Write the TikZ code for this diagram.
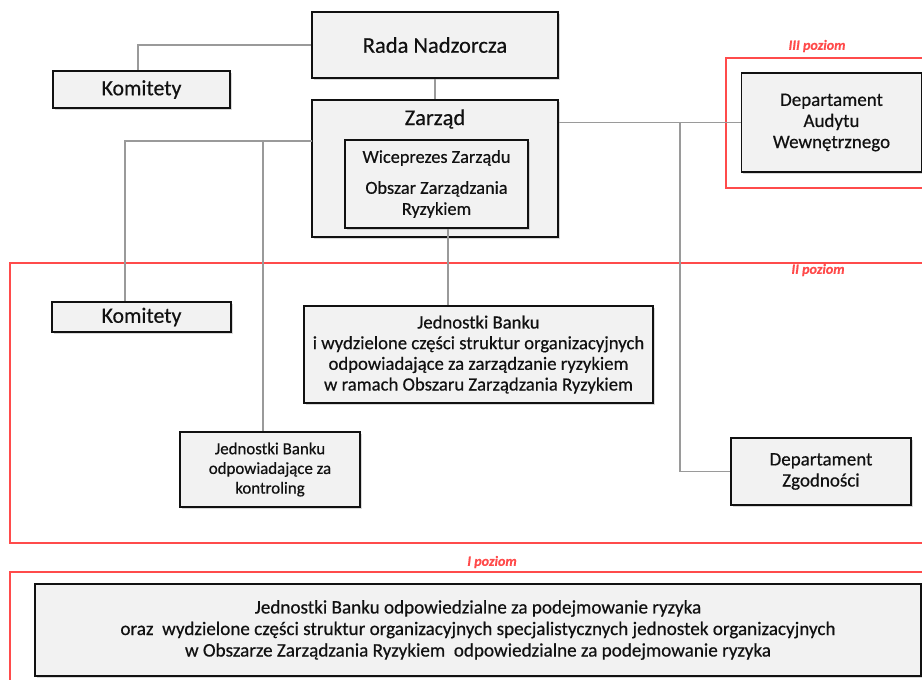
\documentclass[tikz,border=0pt]{standalone}
\usepackage{fontspec}
\setmainfont{Carlito}[FakeBold=0.5]
\usetikzlibrary{shadows}
\definecolor{ink}{HTML}{111111}
\definecolor{boxf}{HTML}{F2F2F2}
\definecolor{conn}{HTML}{9A9A9A}
\definecolor{lvl}{HTML}{FF4B4B}
\tikzset{
  box/.style={draw=ink,fill=boxf,line width=1.1pt,align=center,inner sep=2pt,text=ink,
    drop shadow={opacity=0.3,shadow xshift=0.05cm,shadow yshift=-0.05cm}},
  big/.style={box,font=\fontsize{15.5}{18}\selectfont},
  mid/.style={box,font=\fontsize{13.5}{15}\selectfont},
  sml/.style={box,font=\fontsize{12}{14}\selectfont},
  link/.style={line width=1.3pt,conn},
  frame/.style={line width=0.8pt,lvl},
  lvltxt/.style={font=\fontsize{10}{11}\selectfont\bfseries\itshape,text=lvl,inner sep=1pt}
}
\begin{document}
\begin{tikzpicture}[x=0.025cm,y=-0.025cm]
\useasboundingbox (0,0) rectangle (922,680);
% ===================== level frames =====================
\draw[frame] (922,58) -- (726,58) -- (726,188) -- (922,188);
\node[lvltxt] (lvl3) at (817,46) {III poziom};
\draw[frame] (922,263) -- (10,263) -- (10,543) -- (922,543);
\node[lvltxt] (lvl2) at (818,270) {II poziom};
\draw[frame] (922,572) -- (10,572) -- (10,680);
\node[lvltxt] (lvl1) at (492,562) {I poziom};
% ===================== boards =====================
\node[big,font=\fontsize{16}{18}\selectfont,minimum width=6.15cm,minimum height=1.65cm] (rada) at (435,45) {Rada Nadzorcza};
\node[big,minimum width=4.425cm,minimum height=0.925cm] (kom1) at (141.5,89.5) {Komitety};
\node[big,minimum width=6.15cm,minimum height=3.425cm] (zarzad) at (435,168.5) {};
\node[font=\fontsize{16}{18}\selectfont,text=ink,inner sep=0pt] (zarzadlab) at (435,119) {Zarząd};
\node[mid,font=\fontsize{13}{15}\selectfont,minimum width=4.575cm,minimum height=2.2cm] (wice) at (436.5,184) {Wiceprezes Zarządu\\[7pt]Obszar Zarządzania\\Ryzykiem};
\node[mid,minimum width=4.5cm,minimum height=2.475cm] (audyt) at (831.5,122.5) {Departament\\Audytu\\Wewnętrznego};
% ===================== II level =====================
\node[big,minimum width=4.475cm,minimum height=0.75cm] (kom2) at (141.5,317) {Komitety};
\node[box,font=\fontsize{13.3}{14.7}\selectfont,minimum width=8.725cm,minimum height=2.425cm] (jbank) at (478.5,354.5) {Jednostki Banku\\i wydzielone części struktur organizacyjnych\\odpowiadające za zarządzanie ryzykiem\\w ramach Obszaru Zarządzania Ryzykiem};
\node[sml,minimum width=4.5cm,minimum height=1.875cm] (kontr) at (270,469.5) {Jednostki Banku\\odpowiadające za\\kontroling};
\node[mid,minimum width=4.5cm,minimum height=1.675cm] (zgod) at (821,471.5) {Departament\\Zgodności};
% ===================== I level =====================
\node[box,font=\fontsize{13.6}{15.3}\selectfont,minimum width=22.15cm,minimum height=2.3cm] (ryzyko) at (478,630) {Jednostki Banku odpowiedzialne za podejmowanie ryzyka\\oraz~ wydzielone części struktur organizacyjnych specjalistycznych jednostek organizacyjnych\\w Obszarze Zarządzania Ryzykiem~ odpowiedzialne za podejmowanie ryzyka};
% ===================== links =====================
\coordinate (zl) at (312,141);
\coordinate (tz) at (680,123);
\draw[link] (rada.west) -| ([xshift=-0.09cm]kom1.north);
\draw[link] (rada.south) -- (zarzad.north);
\draw[link] (audyt.west) -- (audyt.west -| zarzad.east);
\draw[link] (zl) -| ([xshift=-0.41cm]kom2.north);
\draw[link] ([xshift=-0.175cm]kontr.north) -- ([xshift=-0.175cm]kontr.north |- zl);
\draw[link] ([xshift=0.29cm]wice.south) -- ([xshift=0.29cm]wice.south |- jbank.north);
\draw[link] (tz) |- (zgod.west);
\end{tikzpicture}
\end{document}
